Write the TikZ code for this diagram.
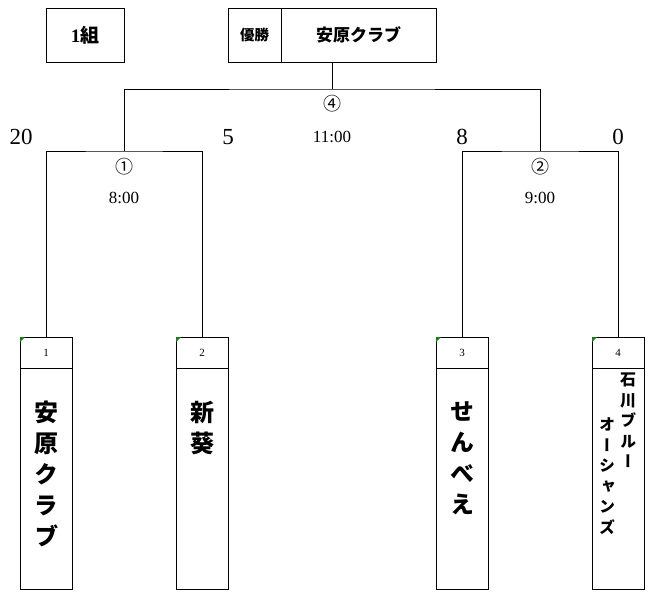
\documentclass[tikz,border=0pt]{standalone}
\usepackage{fontspec}
\setmainfont{Liberation Serif}
\newfontfamily\jp{Noto Sans CJK JP}
\newfontfamily\jpv[RawFeature=+vert]{Noto Sans CJK JP}
\usepackage{tikz}
\usetikzlibrary{positioning}
\definecolor{ink}{HTML}{000000}
\definecolor{flag}{HTML}{1E7B1E}
\tikzset{
  box/.style={draw=ink, line width=0.9pt, inner sep=0pt, outer sep=0pt},
  wire/.style={draw=ink, line width=0.9pt},
  head/.style={box, minimum width=52pt, minimum height=31pt, anchor=north, font=\fontsize{11}{12}\selectfont},
  namebox/.style={box, minimum width=52pt, minimum height=221pt},
  vname/.style={align=center, anchor=north, inner sep=0pt, font=\jpv\bfseries\fontsize{24}{31}\selectfont},
  vsmall/.style={vname, font=\jpv\bfseries\fontsize{16}{20.5}\selectfont},
  score/.style={text=ink, font=\fontsize{23}{23}\selectfont},
  circ/.style={text=ink, font=\jp\fontsize{18}{18}\selectfont},
  clock/.style={text=ink, font=\fontsize{17}{17}\selectfont},
}
\begin{document}
\begin{tikzpicture}[x=1pt,y=-1pt]
  \useasboundingbox (0,0) rectangle (658,602);
  % title boxes
  \node[box, minimum width=78pt, minimum height=54pt, font=\bfseries\fontsize{19}{19}\selectfont] (group) at (85,35) {1{\jp 組}};
  \node[box, minimum width=53pt, minimum height=54pt, font=\jp\bfseries\fontsize{14.5}{14.5}\selectfont] (winlab) at (254.5,35) {優勝};
  \node[box, minimum width=155pt, minimum height=54pt, right=0pt of winlab, font=\jp\bfseries\fontsize{17}{17}\selectfont] (winner) {安原クラブ};
  % teams
  \foreach \i/\x in {1/46,2/202,3/462,4/618} {
    \node[head] (h\i) at (\x,337) {\i};
    \node[namebox, below=0pt of h\i] (n\i) {};
    \fill[flag] (h\i.north west) -- ++(5,0) -- ++(-5,5) -- cycle;
  }
  \node[vname] (t1) at (46,401) {安\\原\\ク\\ラ\\ブ};
  \node[vname] (t2) at (202,401) {新\\葵};
  \node[vname] (t3) at (462,401) {せ\\ん\\べ\\え};
  \node[vsmall] (t4a) at (628,373) {石\\川\\ブ\\ル\\ー};
  \node[vsmall] (t4b) at (607,418) {オ\\ー\\シ\\ャ\\ン\\ズ};
  % bracket
  \coordinate (m1) at (124,151);
  \coordinate (m2) at (540,151);
  \coordinate (fin) at (332,89);
  \draw[wire] (h1.north) |- (m1) -| (h2.north);
  \draw[wire] (h3.north) |- (m2) -| (h4.north);
  \draw[wire] (m1) |- (fin) -| (m2);
  \draw[wire] (fin) -- (fin |- winner.south);
  % games
  \node[circ] (c1) at (124,167) {①};
  \node[clock] (k1) at (124,198) {8:00};
  \node[circ] (c2) at (540,167) {②};
  \node[clock] (k2) at (540,198) {9:00};
  \node[circ] (c4) at (332,104) {④};
  \node[clock] (k4) at (332,137) {11:00};
  \node[score] (s1) at (21,137) {20};
  \node[score] (s2) at (228,137) {5};
  \node[score] (s3) at (462,137) {8};
  \node[score] (s4) at (618,137) {0};
\end{tikzpicture}
\end{document}
